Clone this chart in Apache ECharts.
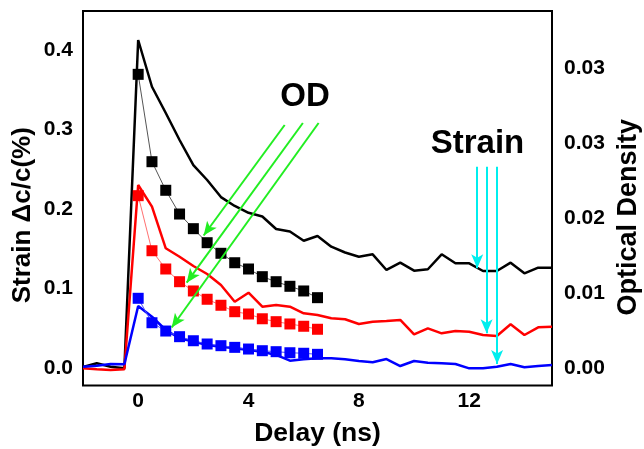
<!DOCTYPE html>
<html><head><meta charset="utf-8">
<script src="https://cdn.jsdelivr.net/npm/echarts@6/dist/echarts.min.js"></script>
<style>html,body{margin:0;padding:0;background:#fff}#c{width:644px;height:449px}</style>
</head><body><div id="c"></div>
<script>
// ---- data ----
const delay = [-2,-1.5,-1,-0.5,0,0.5,1,1.5,2,2.5,3,3.5,4,4.5,5,5.5,6,6.5,7,7.5,8,8.5,9,9.5,10,10.5,11,11.5,12,12.5,13,13.5,14,14.5,15];
const strainBlack = [0.0013,0.0059,0.0016,-0.0004,0.4126,0.3538,0.3208,0.2868,0.2553,0.2365,0.2150,0.2038,0.1952,0.1906,0.1748,0.1717,0.1601,0.1660,0.1526,0.1453,0.1400,0.1430,0.1233,0.1325,0.1224,0.1242,0.1430,0.1317,0.1317,0.1220,0.1220,0.1325,0.1191,0.1262,0.1262];
const strainRed = [-0.0004,-0.0016,-0.0025,-0.0016,0.2302,0.2029,0.1506,0.1400,0.1283,0.1182,0.1044,0.0834,0.0947,0.0771,0.0792,0.0771,0.0688,0.0667,0.0625,0.0613,0.0553,0.0582,0.0591,0.0604,0.0424,0.0499,0.0436,0.0465,0.0457,0.0415,0.0403,0.0550,0.0415,0.0512,0.0520];
const strainBlue = [0.0016,0.0029,0.0050,0.0047,0.0780,0.0645,0.0478,0.0374,0.0332,0.0289,0.0268,0.0248,0.0226,0.0205,0.0164,0.0092,0.0109,0.0122,0.0122,0.0109,0.0088,0.0072,0.0113,0.0025,0.0088,0.0067,0.0059,0.0050,-0.0004,-0.0004,0.0016,0.0050,0.0009,0.0025,0.0038];
const odDelay = [0,0.5,1,1.5,2,2.5,3,3.5,4,4.5,5,5.5,6,6.5];
const odBlack = [0.03328,0.02338,0.02014,0.01745,0.01579,0.01420,0.01300,0.01193,0.01122,0.01035,0.00978,0.00926,0.00873,0.00797];
const odRed = [0.01953,0.01329,0.01122,0.00978,0.00873,0.00779,0.00711,0.00638,0.00612,0.00558,0.00525,0.00499,0.00473,0.00439];
const odBlue = [0.00790,0.00513,0.00419,0.00355,0.00309,0.00272,0.00253,0.00234,0.00215,0.00196,0.00185,0.00173,0.00167,0.00155];
const xTicks = [0,4,8,12];
const xTickLabels = ['0','4','8','12'];
const leftTicks = [0,0.1,0.2,0.3,0.4];
const leftTickLabels = ['0.0','0.1','0.2','0.3','0.4'];
const rightTicks = [0,0.0085,0.017,0.0255,0.034];
const rightTickLabels = ['0.00','0.01','0.02','0.03','0.03'];
// arrows: [xStart, yStart, xEnd, yEnd] in (delay, strain) units
const odArrows = [[5.31,0.3057,2.373,0.1667],[5.97,0.3082,1.757,0.1073],[6.54,0.3082,1.214,0.0509]];
const strainArrows = [[12.29,0.2532,12.29,0.1254],[12.63,0.2532,12.63,0.0436],[13.01,0.2532,13.01,0.0050]];
const notes = [['OD',6.05,0.341],['Strain',12.3,0.2818]];

// ---- chart ----
const zip = (xs, ys) => xs.map((x, i) => [x, ys[i]]);
const lookup = (ticks, labels, eps) => v => { const i = ticks.findIndex(t => Math.abs(t - v) < eps); return i >= 0 ? labels[i] : ''; };
const FONT = 'Liberation Sans';
const lab = {fontSize: 21, fontWeight: 'bold', color: '#000', fontFamily: FONT};
const nameStyle = size => ({fontSize: size, fontWeight: 'bold', color: '#000', fontFamily: FONT});

const lineSeries = (data, color) => ({type: 'line', data, yAxisIndex: 0, showSymbol: false, symbol: 'none', lineStyle: {color, width: 2.5}, z: 2});
const squareSeries = (data, color, thin) => ({type: 'line', data, yAxisIndex: 1, symbol: 'rect', symbolSize: 11, itemStyle: {color}, lineStyle: {color: thin, width: 1}, z: 3});
const arrowSeries = (arrows, color) => ({
  type: 'line', data: [], yAxisIndex: 0, z: 5,
  markLine: {silent: true, animation: false, symbol: ['none', 'arrow'], symbolSize: [9, 14],
    label: {show: false}, lineStyle: {color, width: 2, type: 'solid'},
    data: arrows.map(a => [{coord: [a[0], a[1]]}, {coord: [a[2], a[3]]}])}
});

const chart = echarts.init(document.getElementById('c'));
chart.setOption({
  animation: false,
  backgroundColor: '#fff',
  grid: {left: 83, right: 92, top: 11, bottom: 63.5, containLabel: false, outerBoundsMode: 'none',
    show: true, borderColor: '#000', borderWidth: 2, backgroundColor: 'transparent'},
  xAxis: {type: 'value', min: -2, max: 15,
    axisLine: {show: false}, axisTick: {show: false}, splitLine: {show: false},
    axisLabel: Object.assign({customValues: xTicks, margin: 5, formatter: lookup(xTicks, xTickLabels, 1e-6)}, lab),
    name: 'Delay (ns)', nameLocation: 'middle', nameGap: 35, nameMoveOverlap: false, nameTextStyle: nameStyle(26.5)},
  yAxis: [
    {type: 'value', min: -0.02201, max: 0.44906, position: 'left',
      axisLine: {show: false}, axisTick: {show: false}, splitLine: {show: false},
      axisLabel: Object.assign({customValues: leftTicks, margin: 10, formatter: lookup(leftTicks, leftTickLabels, 1e-6)}, lab),
      name: 'Strain Δc/c(%)', nameLocation: 'middle', nameRotate: 90, nameGap: 47, nameMoveOverlap: false,
      nameTextStyle: Object.assign({padding: [0, 34, 0, 0]}, nameStyle(26))},
    {type: 'value', min: -0.001983, max: 0.040458, position: 'right',
      axisLine: {show: false}, axisTick: {show: false}, splitLine: {show: false},
      axisLabel: Object.assign({customValues: rightTicks, margin: 12, formatter: lookup(rightTicks, rightTickLabels, 1e-7)}, lab),
      name: 'Optical Density', nameLocation: 'middle', nameRotate: 90, nameGap: 63, nameMoveOverlap: false,
      nameTextStyle: Object.assign({padding: [0, 38, 0, 0]}, nameStyle(27))}
  ],
  series: [
    lineSeries(zip(delay, strainBlack), '#000000'),
    lineSeries(zip(delay, strainRed), '#ff0000'),
    lineSeries(zip(delay, strainBlue), '#0000ff'),
    squareSeries(zip(odDelay, odBlack), '#000000', '#555555'),
    squareSeries(zip(odDelay, odRed), '#ff0000', '#ff7070'),
    squareSeries(zip(odDelay, odBlue), '#0000ff', '#5050ff'),
    arrowSeries(odArrows, '#22ee22'),
    arrowSeries(strainArrows, '#00eeee'),
    {type: 'line', data: [], yAxisIndex: 0, z: 6,
      markPoint: {silent: true, animation: false, symbol: 'circle', symbolSize: 1, itemStyle: {color: 'rgba(0,0,0,0)'},
        label: {show: true, position: 'inside', fontSize: 33, fontWeight: 'bold', color: '#000', fontFamily: FONT, formatter: p => p.name},
        data: notes.map(n => ({name: n[0], coord: [n[1], n[2]]}))}}
  ]
});
</script></body></html>
